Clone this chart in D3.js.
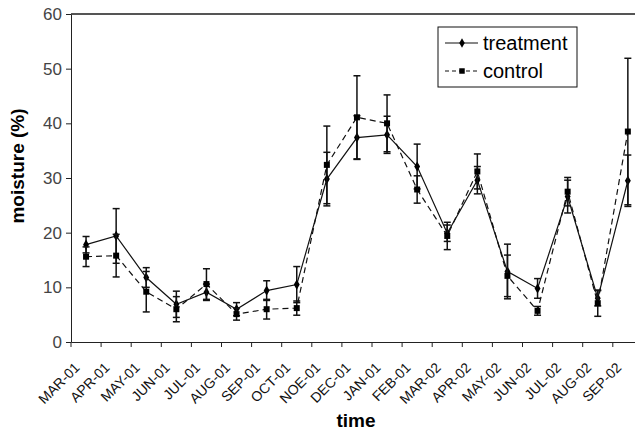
<!DOCTYPE html>
<html>
<head>
<meta charset="utf-8">
<script src="https://cdn.jsdelivr.net/npm/d3@7"></script>
<style>
  html, body { margin: 0; padding: 0; background: #fff; }
  svg { display: block; font-family: Arial, "Liberation Sans", sans-serif; }
  .y.axis text { fill: #444; font-size: 17px; }
  .x.axis text { fill: #111; font-size: 14px; }
  .axis path, .axis line { stroke: #222; }
</style>
</head>
<body>
<div id="moisture-chart"></div>
<script>
// Monthly sampling dates (axis labels as printed)
var categories = ["MAR-01", "APR-01", "MAY-01", "JUN-01", "JUL-01", "AUG-01",
  "SEP-01", "OCT-01", "NOE-01", "DEC-01", "JAN-01", "FEB-01", "MAR-02",
  "APR-02", "MAY-02", "JUN-02", "JUL-02", "AUG-02", "SEP-02"];

var treatment = [17.8, 19.4, 11.8, 6.9, 9.1, 6.0, 9.4, 10.5, 29.8, 37.4,
  37.9, 32.1, 19.9, 29.6, 12.9, 9.8, 26.6, 8.0, 29.5];
var treatmentErr = [1.5, 5.0, 1.8, 2.4, 1.5, 1.2, 1.8, 3.3, 4.9, 4.0,
  3.4, 4.1, 1.5, 2.5, 5.0, 1.8, 3.0, 1.4, 4.7];

var control = [15.6, 15.8, 9.2, 6.0, 10.6, 5.1, 6.0, 6.2, 32.4, 41.1,
  40.0, 27.9, 19.4, 31.2, 12.1, 5.7, 27.5, 7.1, 38.5];
var controlErr = [1.8, 3.9, 3.7, 2.3, 2.8, 1.1, 1.8, 1.3, 7.1, 7.6,
  5.2, 2.5, 2.5, 3.2, 3.8, 0.8, 2.6, 2.4, 13.4];

var yTicks = [0, 10, 20, 30, 40, 50, 60];

var render = function() {
  var width = 635;
  var height = 433;
  var margins = { top: 14, left: 71, bottom: 91 };
  var bandStep = 30.1;
  var chartHeight = height - margins.top - margins.bottom;
  var chartWidth = bandStep * categories.length;

  var svg = d3.select("#moisture-chart")
    .append("svg")
    .attr("width", width)
    .attr("height", height);

  var chartElement = svg.append("g")
    .attr("transform", "translate(" + margins.left + "," + margins.top + ")");

  var xScale = d3.scaleBand()
    .domain(categories)
    .range([0, chartWidth]);

  var yScale = d3.scaleLinear()
    .domain([0, 60])
    .range([chartHeight, 0]);

  var xCenter = function(i) {
    return xScale(categories[i]) + xScale.bandwidth() / 2;
  };

  // Top border of the plot area
  chartElement.append("line")
    .attr("x1", 0)
    .attr("x2", chartWidth)
    .attr("y1", 0)
    .attr("y2", 0)
    .attr("stroke", "#555")
    .attr("stroke-width", 2);

  // Y axis
  var yAxis = d3.axisLeft(yScale)
    .tickValues(yTicks)
    .tickSize(5)
    .tickPadding(4)
    .tickSizeOuter(0);

  chartElement.append("g")
    .attr("class", "y axis")
    .call(yAxis);

  // X axis: ticks on band edges, labels rotated below
  var xAxis = d3.axisBottom(xScale)
    .tickSize(0)
    .tickFormat("");

  var xAxisG = chartElement.append("g")
    .attr("class", "x axis")
    .attr("transform", "translate(0," + chartHeight + ")")
    .call(xAxis);

  xAxisG.selectAll(".edge")
    .data(d3.range(categories.length + 1))
    .enter()
    .append("line")
    .attr("class", "edge")
    .attr("x1", function(d) { return d * bandStep; })
    .attr("x2", function(d) { return d * bandStep; })
    .attr("y1", 0)
    .attr("y2", 5)
    .attr("stroke", "#222");

  xAxisG.selectAll(".label")
    .data(categories)
    .enter()
    .append("text")
    .attr("class", "label")
    .attr("text-anchor", "end")
    .attr("transform", function(d, i) {
      return "translate(" + (xCenter(i) - 9) + ",23) rotate(-45)";
    })
    .attr("dy", "0.35em")
    .text(function(d) { return d; });

  // Axis titles
  svg.append("text")
    .attr("transform", "translate(24,166) rotate(-90)")
    .attr("text-anchor", "middle")
    .attr("font-size", 19)
    .attr("font-weight", "bold")
    .text("moisture (%)");

  svg.append("text")
    .attr("x", 356)
    .attr("y", 427)
    .attr("text-anchor", "middle")
    .attr("font-size", 19)
    .attr("font-weight", "bold")
    .text("time");

  var series = [
    { name: "treatment", values: treatment, errs: treatmentErr, dash: null, marker: "diamond" },
    { name: "control", values: control, errs: controlErr, dash: "6,4", marker: "square" }
  ];

  var line = d3.line()
    .x(function(d, i) { return xCenter(i); })
    .y(function(d) { return yScale(d); });

  series.forEach(function(s) {
    var g = chartElement.append("g").attr("class", "series " + s.name);

    // Error bars
    var errG = g.selectAll(".err")
      .data(s.values)
      .enter()
      .append("g")
      .attr("class", "err")
      .attr("stroke", "#111")
      .attr("stroke-width", 1.5);

    errG.append("line")
      .attr("x1", function(d, i) { return xCenter(i); })
      .attr("x2", function(d, i) { return xCenter(i); })
      .attr("y1", function(d, i) { return yScale(d + s.errs[i]); })
      .attr("y2", function(d, i) { return yScale(d - s.errs[i]); });

    [1, -1].forEach(function(sign) {
      errG.append("line")
        .attr("x1", function(d, i) { return xCenter(i) - 3.5; })
        .attr("x2", function(d, i) { return xCenter(i) + 3.5; })
        .attr("y1", function(d, i) { return yScale(d + sign * s.errs[i]); })
        .attr("y2", function(d, i) { return yScale(d + sign * s.errs[i]); });
    });

    g.append("path")
      .datum(s.values)
      .attr("fill", "none")
      .attr("stroke", "#111")
      .attr("stroke-width", 1.2)
      .attr("stroke-dasharray", s.dash)
      .attr("d", line);

    var symbol = d3.symbol()
      .type(s.marker === "square" ? d3.symbolSquare : d3.symbolDiamond)
      .size(s.marker === "square" ? 36 : 30);

    g.selectAll(".marker")
      .data(s.values)
      .enter()
      .append("path")
      .attr("class", "marker")
      .attr("transform", function(d, i) {
        return "translate(" + xCenter(i) + "," + yScale(d) + ")";
      })
      .attr("d", symbol)
      .attr("fill", "#000");
  });

  // Legend
  var legend = svg.append("g")
    .attr("class", "legend")
    .attr("transform", "translate(438,27)");

  legend.append("rect")
    .attr("width", 139)
    .attr("height", 60)
    .attr("fill", "#fff")
    .attr("stroke", "#111")
    .attr("stroke-width", 1);

  var legendItems = legend.selectAll(".item")
    .data(series)
    .enter()
    .append("g")
    .attr("class", "item")
    .attr("transform", function(d, i) {
      return "translate(0," + (16 + i * 28) + ")";
    });

  legendItems.append("line")
    .attr("x1", 7)
    .attr("x2", 40)
    .attr("stroke", "#111")
    .attr("stroke-width", 1.2)
    .attr("stroke-dasharray", function(d) { return d.dash ? "4,3" : null; });

  legendItems.append("path")
    .attr("transform", "translate(24,0)")
    .attr("d", function(d) {
      return d3.symbol()
        .type(d.marker === "square" ? d3.symbolSquare : d3.symbolDiamond)
        .size(d.marker === "square" ? 30 : 26)();
    })
    .attr("fill", "#000");

  legendItems.append("text")
    .attr("x", 45)
    .attr("dy", "0.35em")
    .attr("font-size", 20)
    .text(function(d) { return d.name; });
};

window.onload = render;
</script>
</body>
</html>
